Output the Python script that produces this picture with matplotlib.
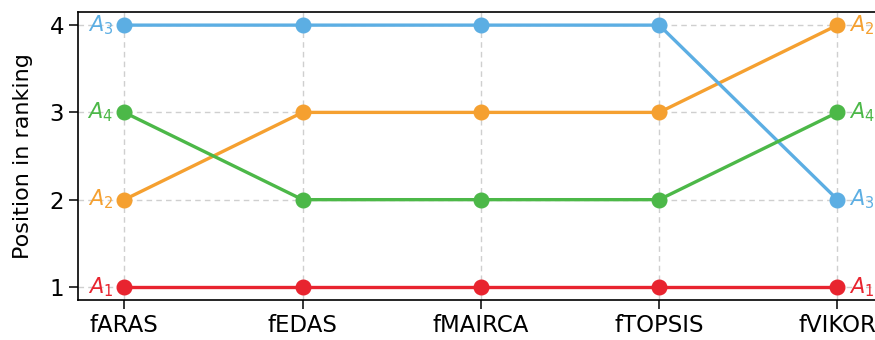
import matplotlib
matplotlib.use("Agg")
import matplotlib.pyplot as plt

methods = ["fARAS", "fEDAS", "fMAIRCA", "fTOPSIS", "fVIKOR"]
alternatives = ["A_1", "A_2", "A_3", "A_4"]
rank_a1 = [1, 1, 1, 1, 1]
rank_a2 = [2, 3, 3, 3, 4]
rank_a3 = [4, 4, 4, 4, 2]
rank_a4 = [3, 2, 2, 2, 3]
colors = ["#e8242f", "#f5a030", "#5caee3", "#4cb848"]

rankings = [rank_a1, rank_a2, rank_a3, rank_a4]

fig = plt.figure(figsize=(8.75, 3.4), dpi=100)
ax = fig.add_axes([0.0891, 0.1176, 0.921, 0.847])

x = list(range(len(methods)))
for name, ranks, color in zip(alternatives, rankings, colors):
    ax.plot(x, ranks, color=color, lw=2.4, marker="o", markersize=10.5, zorder=3)
    ax.annotate(f"${name}$", (x[0], ranks[0]), xytext=(-8, 0),
                textcoords="offset points", ha="right", va="center",
                color=color, fontsize=15)
    ax.annotate(f"${name}$", (x[-1], ranks[-1]), xytext=(8, 0),
                textcoords="offset points", ha="left", va="center",
                color=color, fontsize=15)

ax.set_xticks(x)
ax.set_xticklabels(methods)
ax.set_yticks([1, 2, 3, 4])
ax.set_xlim(-0.26, 4.26)
ax.set_ylim(0.85, 4.15)
ax.tick_params(labelsize=16.5, length=6.5, width=1.1)
ax.set_ylabel("Position in ranking", fontsize=16, labelpad=12)
ax.grid(True, linestyle=(0, (4, 3)), color="#cfcfcf", lw=1)
ax.set_axisbelow(True)
for s in ax.spines.values():
    s.set_linewidth(1.2)

fig.savefig("out.png", dpi=100)
